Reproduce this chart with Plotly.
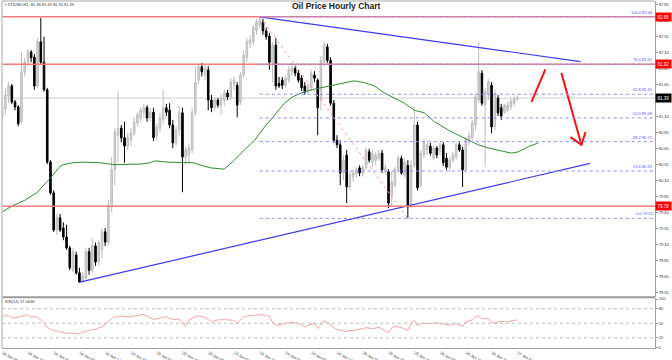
import plotly.graph_objects as go

# ---------------- data ----------------
bar_index = list(range(161))
open_ = [81.08, 81.22, 81.42, 81.58, 81.33, 81.25, 81.02, 81.80, 81.95, 82.11,
         82.03, 81.58, 82.27, 81.95, 81.52, 80.39, 79.91, 79.33, 79.52, 79.36,
         79.22, 79.05, 78.70, 78.94, 78.66, 78.52, 78.58, 78.99, 78.70, 79.08,
         78.83, 79.02, 79.30, 79.14, 79.69, 80.27, 80.81, 80.92, 80.77, 80.64,
         80.73, 80.84, 81.00, 81.08, 81.17, 81.24, 81.08, 81.17, 80.80, 80.92,
         81.05, 81.24, 81.20, 80.97, 80.69, 80.89, 81.16, 80.47, 80.50, 80.58,
         81.16, 81.67, 81.88, 81.75, 81.83, 81.36, 81.24, 81.36, 81.28, 81.36,
         81.47, 81.41, 81.61, 81.59, 81.33, 81.75, 82.02, 82.24, 82.27, 82.45,
         82.53, 82.58, 82.44, 82.36, 81.95, 82.22, 81.62, 81.67, 81.59, 81.67,
         81.80, 81.85, 81.78, 81.70, 81.58, 81.49, 81.55, 81.75, 81.67, 81.36,
         81.95, 82.19, 81.98, 81.31, 80.73, 80.66, 80.22, 80.50, 80.00, 80.16,
         80.20, 80.30, 80.22, 80.30, 80.55, 80.39, 80.42, 80.45, 80.53, 80.24,
         80.24, 79.88, 80.03, 80.27, 80.45, 80.19, 80.34, 79.72, 80.34, 80.97,
         80.03, 80.50, 80.58, 80.64, 80.45, 80.61, 80.55, 80.66, 80.45, 80.31,
         80.42, 80.47, 80.66, 80.58, 80.27, 80.70, 80.77, 80.97, 81.36, 81.78,
         81.28, 81.44, 81.59, 80.94, 81.39, 81.24, 81.17, 81.20, 81.25, 81.31,
         81.38]
high = [81.36, 81.55, 81.64, 81.61, 81.36, 81.28, 82.11, 82.02, 82.16, 82.14,
        82.08, 82.33, 82.64, 82.35, 81.55, 80.42, 79.95, 79.58, 79.58, 79.45,
        79.41, 79.08, 79.05, 78.99, 78.74, 78.67, 79.05, 79.05, 79.20, 79.13,
        79.17, 79.36, 79.36, 79.80, 80.47, 80.92, 81.49, 80.97, 81.02, 80.84,
        80.92, 81.08, 81.17, 81.25, 81.30, 81.28, 81.24, 81.24, 80.99, 81.16,
        81.52, 81.30, 81.31, 81.05, 80.95, 81.27, 81.24, 80.63, 80.67, 81.24,
        81.88, 81.92, 81.94, 81.91, 81.89, 81.44, 81.41, 81.39, 81.45, 81.52,
        81.52, 81.70, 81.73, 81.64, 81.80, 82.14, 82.33, 82.38, 82.53, 82.63,
        82.66, 82.63, 82.49, 82.41, 82.27, 82.33, 81.72, 81.72, 81.75, 81.89,
        81.92, 81.89, 81.83, 81.75, 81.64, 81.63, 81.83, 81.81, 81.70, 82.05,
        82.27, 82.24, 82.03, 81.36, 80.81, 80.73, 80.50, 80.58, 80.24, 80.27,
        80.31, 80.34, 80.34, 80.61, 80.60, 80.58, 80.55, 80.58, 80.58, 80.36,
        80.28, 80.24, 80.31, 80.50, 80.49, 80.45, 80.42, 80.42, 81.25, 81.02,
        80.58, 80.75, 80.70, 80.69, 80.66, 80.64, 80.70, 80.70, 80.53, 80.47,
        80.55, 80.70, 80.70, 80.63, 80.78, 80.86, 81.05, 81.45, 82.25, 81.83,
        81.55, 81.69, 81.64, 81.52, 81.44, 81.30, 81.30, 81.33, 81.39, 81.42,
        81.43]
low = [80.94, 81.13, 81.31, 81.30, 81.20, 80.95, 80.99, 81.73, 81.89, 81.95,
       81.52, 81.55, 81.92, 81.49, 80.36, 79.88, 79.30, 79.25, 79.30, 79.17,
       79.02, 78.70, 78.67, 78.63, 78.50, 78.50, 78.55, 78.63, 78.66, 78.77,
       78.77, 78.89, 79.08, 79.09, 79.61, 80.03, 80.38, 80.70, 80.38, 80.58,
       80.64, 80.80, 80.95, 81.02, 81.08, 81.02, 81.02, 80.72, 80.73, 80.86,
       80.99, 81.11, 80.92, 80.61, 80.64, 80.80, 79.92, 80.34, 80.36, 80.53,
       81.11, 81.61, 81.73, 81.67, 81.20, 81.17, 81.19, 81.24, 81.13, 81.27,
       81.36, 81.36, 81.52, 81.09, 81.28, 81.70, 81.95, 82.17, 82.22, 82.38,
       82.49, 82.38, 82.30, 81.83, 81.64, 81.52, 81.55, 81.53, 81.55, 81.63,
       81.75, 81.73, 81.63, 81.50, 81.44, 81.45, 81.49, 81.64, 80.81, 81.20,
       81.89, 81.94, 81.27, 80.69, 80.61, 80.03, 80.11, 79.75, 79.95, 80.08,
       80.14, 80.17, 80.16, 80.27, 80.38, 80.31, 80.34, 80.41, 80.22, 80.19,
       79.67, 79.69, 79.99, 80.22, 80.19, 80.14, 79.51, 79.67, 80.30, 79.95,
       79.99, 80.45, 80.50, 80.49, 80.42, 80.45, 80.50, 80.33, 80.27, 80.24,
       80.38, 80.42, 80.55, 80.00, 80.22, 80.66, 80.72, 80.89, 81.31, 81.27,
       80.31, 81.36, 80.84, 80.89, 81.11, 81.05, 81.14, 81.16, 81.20, 81.27,
       81.35]
close = [81.24, 81.44, 81.58, 81.33, 81.25, 80.99, 81.80, 81.95, 82.11, 82.02,
         81.58, 82.27, 81.95, 81.52, 80.39, 79.91, 79.33, 79.52, 79.33, 79.22,
         79.05, 78.74, 78.99, 78.66, 78.52, 78.61, 78.99, 78.70, 79.09, 78.83,
         79.13, 79.30, 79.14, 79.72, 80.27, 80.86, 80.92, 80.77, 80.64, 80.77,
         80.84, 81.02, 81.13, 81.20, 81.24, 81.08, 81.17, 80.77, 80.94, 81.08,
         81.24, 81.17, 80.97, 80.69, 80.89, 81.17, 80.47, 80.58, 80.61, 81.16,
         81.64, 81.88, 81.80, 81.86, 81.36, 81.24, 81.36, 81.28, 81.39, 81.47,
         81.41, 81.64, 81.67, 81.28, 81.75, 82.06, 82.27, 82.30, 82.49, 82.58,
         82.61, 82.44, 82.35, 81.95, 82.22, 81.58, 81.58, 81.59, 81.70, 81.83,
         81.86, 81.78, 81.67, 81.55, 81.49, 81.58, 81.78, 81.70, 81.24, 81.98,
         82.22, 81.98, 81.31, 80.73, 80.66, 80.22, 80.42, 80.00, 80.19, 80.22,
         80.27, 80.22, 80.30, 80.58, 80.42, 80.53, 80.50, 80.53, 80.27, 80.30,
         79.75, 80.08, 80.27, 80.45, 80.22, 80.39, 79.69, 80.34, 80.97, 79.99,
         80.53, 80.70, 80.66, 80.53, 80.61, 80.50, 80.66, 80.38, 80.31, 80.42,
         80.50, 80.66, 80.58, 80.27, 80.73, 80.80, 81.00, 81.41, 81.80, 81.31,
         81.49, 81.64, 80.94, 81.47, 81.16, 81.11, 81.27, 81.28, 81.34, 81.38,
         81.39]
rsi = [63, 66, 66, 62, 61, 62, 64, 66, 67, 62,
       64, 62, 57, 50, 41, 38, 35, 34, 32, 31,
       29, 30, 30, 28, 29, 32, 34, 36, 37, 38,
       40, 43, 48, 54, 60, 63, 64, 65, 64, 63,
       64, 65, 66, 67, 68, 65, 61, 58, 59, 61,
       62, 63, 60, 58, 58, 59, 50, 44, 57, 61,
       64, 65, 64, 62, 58, 53, 55, 57, 57, 58,
       57, 57, 56, 50, 57, 63, 65, 66, 67, 68,
       68, 67, 66, 64, 52, 46, 47, 48, 49, 51,
       52, 51, 49, 47, 43, 45, 47, 50, 39, 47,
       55, 51, 45, 41, 37, 35, 34, 33, 35, 35,
       36, 37, 39, 41, 40, 39, 40, 42, 38, 34,
       31, 40, 44, 42, 41, 38, 36, 49, 56, 45,
       49, 50, 49, 49, 50, 51, 50, 49, 47, 46,
       48, 49, 46, 44, 53, 55, 57, 63, 65, 60,
       59, 60, 52, 51, 53, 54, 53, 53, 55, 56,
       57.06]
ma_x = [0, 2.6, 7.2, 11, 13.4, 15, 16.6, 18.1, 19, 22.1, 25.2, 30.5, 34.6, 38.9,
        43, 46, 47.6, 51.3, 56.3, 59.4, 62.5, 64.7, 69, 72.1, 75.2, 78.4, 81.5,
        84.6, 87.7, 90.2, 93.9, 97, 100.1, 103.2, 106.3, 109.4, 112.5, 115.6,
        118.7, 121.8, 125, 128, 131.1, 134.3, 138.6, 141.7, 144.8, 147.9, 151,
        154.1, 158.2, 160.3, 163.4, 166.5]
ma_y = [79.61, 79.69, 79.80, 79.92, 80.06, 80.14, 80.24, 80.33, 80.35, 80.38,
        80.39, 80.38, 80.35, 80.35, 80.36, 80.38, 80.41, 80.39, 80.38, 80.38,
        80.33, 80.30, 80.28, 80.42, 80.58, 80.73, 80.94, 81.13, 81.31, 81.41,
        81.49, 81.53, 81.56, 81.59, 81.63, 81.66, 81.63, 81.58, 81.47, 81.39,
        81.31, 81.20, 81.16, 81.02, 80.89, 80.81, 80.73, 80.66, 80.61, 80.58,
        80.53, 80.55, 80.63, 80.69]

tick_bars = [0, 8, 16, 24, 32, 40, 48, 56, 64, 72, 80, 88, 96, 104, 112, 120,
             128, 136, 144, 152, 160]
tick_labels = ["18 Jan 2023", "18 Jan 13:00", "18 Jan 21:00", "19 Jan 06:00",
               "19 Jan 14:00", "19 Jan 22:00", "20 Jan 07:00", "20 Jan 15:00",
               "20 Jan 23:00", "23 Jan 08:00", "23 Jan 16:00", "24 Jan 01:00",
               "24 Jan 09:00", "24 Jan 17:00", "25 Jan 02:00", "25 Jan 10:00",
               "25 Jan 18:00", "26 Jan 03:00", "26 Jan 11:00", "26 Jan 19:00",
               "27 Jan 04:00"]
price_ticks = [78.35, 78.60, 78.85, 79.10, 79.35, 79.60, 79.85, 80.10, 80.35,
               80.60, 80.85, 81.10, 81.35, 81.60, 81.85, 82.10, 82.35, 82.60, 82.85]
rsi_ticks = [0, 20, 50, 80, 100]
rsi_levels = [20, 50, 80]

fib_levels = ["0.0", "23.6", "38.2", "50.0", "61.8", "76.4", "100.0"]
fib_prices = [79.51, 80.25, 80.71, 81.08, 81.45, 81.92, 82.66]
fib_start_bar = 80
red_levels = [82.66, 81.92, 79.70]
bid_price = 81.39

upper_trend_x = [80, 179.6]
upper_trend_y = [82.66, 81.96]
lower_trend_x = [23.8, 182.6]
lower_trend_y = [78.51, 80.37]
fib_diag_x = [80, 126]
fib_diag_y = [82.66, 79.51]
arrow_up_x = [164.4, 168.7]
arrow_up_y = [81.33, 81.84]
arrow_down_x = [173.7, 179.9]
arrow_down_y = [81.78, 80.66]
arrow_head_x = [176.5, 179.9, 181.2]
arrow_head_y = [80.78, 80.66, 80.86]

header_text = "▪ XTIUSD,H1  81.38 81.43 81.35 81.39"
rsi_text = "RSI(14) 57.0636"
title_text = "Oil Price Hourly Chart"

# ---------------- figure ----------------
X_RANGE = [-0.05, 202.76]
SMALL = dict(family="Liberation Sans, Arial, sans-serif", size=4, color="#333333")

fig = go.Figure()

fig.add_trace(go.Candlestick(
    x=bar_index, open=open_, high=high, low=low, close=close,
    increasing=dict(line=dict(color="#bcbcbc", width=1), fillcolor="#dadada"),
    decreasing=dict(line=dict(color="#000000", width=1), fillcolor="#000000"),
    whiskerwidth=0, xaxis="x", yaxis="y", showlegend=False, hoverinfo="skip"))

fig.add_trace(go.Scatter(x=ma_x, y=ma_y, mode="lines", yaxis="y",
                         line=dict(color="#2f8a2f", width=1), hoverinfo="skip"))
fig.add_trace(go.Scatter(x=fib_diag_x, y=fib_diag_y, mode="lines", yaxis="y",
                         line=dict(color="#ff9a9a", width=1, dash="dot"), hoverinfo="skip"))
for tx, ty in [(upper_trend_x, upper_trend_y), (lower_trend_x, lower_trend_y)]:
    fig.add_trace(go.Scatter(x=tx, y=ty, mode="lines", yaxis="y",
                             line=dict(color="#3b3bf0", width=1.2), hoverinfo="skip"))
for ax_, ay_ in [(arrow_up_x, arrow_up_y), (arrow_down_x, arrow_down_y),
                 (arrow_head_x, arrow_head_y)]:
    fig.add_trace(go.Scatter(x=ax_, y=ay_, mode="lines", yaxis="y",
                             line=dict(color="#ff1010", width=2), hoverinfo="skip"))

fig.add_trace(go.Scatter(x=bar_index, y=rsi, mode="lines", yaxis="y2",
                         line=dict(color="#f4a5a5", width=1), hoverinfo="skip"))

shapes = []
shapes.append(dict(type="line", xref="paper", x0=0, x1=1, yref="y", y0=bid_price, y1=bid_price,
                   line=dict(color="#cfcfcf", width=1), layer="below"))
for v in red_levels:
    shapes.append(dict(type="line", xref="paper", x0=0, x1=1, yref="y", y0=v, y1=v,
                       line=dict(color="#f27a7a", width=1.5)))
for v in fib_prices:
    shapes.append(dict(type="line", xref="x", x0=fib_start_bar, x1=X_RANGE[1], yref="y", y0=v, y1=v,
                       line=dict(color="#8e8eff", width=1, dash="dot")))
for v in rsi_levels:
    shapes.append(dict(type="line", xref="paper", x0=0, x1=1, yref="y2", y0=v, y1=v,
                       line=dict(color="#bdbdbd", width=1, dash="dot")))
# panel separator and frame
shapes.append(dict(type="line", xref="paper", x0=0, x1=1, yref="paper", y0=0.1464, y1=0.1464,
                   line=dict(color="#9a9a9a", width=2)))
shapes.append(dict(type="line", xref="paper", x0=0, x1=0, yref="paper", y0=0, y1=1,
                   line=dict(color="#c4c4c4", width=1.5)))
shapes.append(dict(type="line", xref="paper", x0=0, x1=1, yref="paper", y0=1, y1=1,
                   line=dict(color="#c4c4c4", width=1.5)))

annotations = []
for lvl, p in zip(fib_levels, fib_prices):
    annotations.append(dict(x=X_RANGE[1], xref="x", y=p, yref="y", xanchor="right",
                            yanchor="bottom", text=f"{lvl} {p:.2f}", showarrow=False,
                            font=dict(family=SMALL["family"], size=4, color="#5050ff")))
for v in red_levels:
    annotations.append(dict(x=1, xref="paper", y=v, yref="y", xanchor="left", yanchor="middle",
                            text=f"{v:.2f}", showarrow=False, bgcolor="#ff0000", borderpad=1.5,
                            font=dict(family=SMALL["family"], size=4.5, color="white")))
annotations.append(dict(x=1, xref="paper", y=bid_price, yref="y", xanchor="left", yanchor="middle",
                        text=f"{bid_price:.2f}", showarrow=False, bgcolor="#000000", borderpad=1.5,
                        font=dict(family=SMALL["family"], size=4.5, color="white")))
annotations.append(dict(x=0.002, xref="paper", y=0.9893, yref="paper", xanchor="left",
                        yanchor="middle", text=header_text, showarrow=False, font=SMALL))
annotations.append(dict(x=0.002, xref="paper", y=0.1354, yref="paper", xanchor="left",
                        yanchor="middle", text=rsi_text, showarrow=False, font=SMALL))
annotations.append(dict(x=0.5115, xref="paper", y=0.9856, yref="paper", xanchor="center",
                        yanchor="middle", text=f"<b>{title_text}</b>", showarrow=False,
                        font=dict(family="Liberation Sans, Arial, sans-serif", size=8.5,
                                  color="#222222")))

fig.update_layout(
    width=672, height=360,
    margin=dict(l=2, r=17, t=1, b=12, pad=0, autoexpand=False),
    paper_bgcolor="white", plot_bgcolor="white",
    showlegend=False,
    shapes=shapes, annotations=annotations,
    xaxis=dict(domain=[0, 1], range=X_RANGE, anchor="y2", automargin=False,
               rangeslider=dict(visible=False),
               tickmode="array", tickvals=tick_bars, ticktext=tick_labels,
               ticklabelposition="outside right", tickfont=SMALL,
               ticks="", ticklen=0, ticklabelstandoff=0,
               showgrid=False, zeroline=False, showline=True,
               linecolor="#a0a0a0", linewidth=1),
    yaxis=dict(domain=[0.1484, 1], range=[78.29, 82.907], side="right", anchor="x",
               automargin=False,
               tickmode="array", tickvals=price_ticks, tickformat=".2f",
               tickfont=SMALL, ticks="outside", ticklen=2, tickcolor="#999999",
               showgrid=False, zeroline=False, showline=True,
               linecolor="#a0a0a0", linewidth=1),
    yaxis2=dict(domain=[0, 0.1441], range=[-1, 102.1], side="right", anchor="x",
                automargin=False,
                tickmode="array", tickvals=rsi_ticks, tickfont=SMALL,
                ticks="outside", ticklen=2, tickcolor="#999999",
                showgrid=False, zeroline=False, showline=True,
                linecolor="#a0a0a0", linewidth=1),
)

fig.write_html("out.html", post_script="document.body.style.margin='0px';",
               config={"displayModeBar": False, "staticPlot": True})
